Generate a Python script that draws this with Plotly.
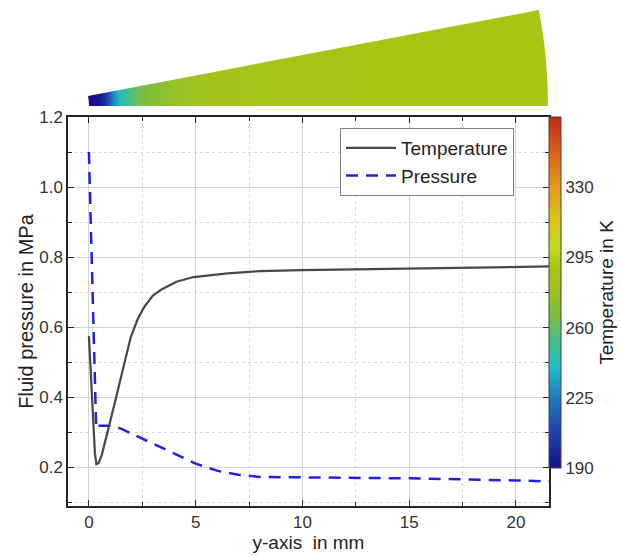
import numpy as np
import plotly.graph_objects as go

# ---------------- data ----------------
# Temperature along y-axis (K)
temp_x = [0.0, 0.1, 0.2, 0.28, 0.35, 0.45, 0.6, 0.8, 1.0, 1.3, 1.65, 1.96, 2.3, 2.6,
          3.0, 3.4, 4.1, 4.9, 6.5, 8.0, 10.0, 15.0, 20.0, 21.55]
temp_K = [255.5, 235.5, 212.8, 197.0, 191.5, 192.0, 196.0, 204.0, 213.0, 226.0, 241.0,
          255.0, 264.4, 270.2, 275.7, 278.8, 282.7, 285.0, 286.8, 288.0, 288.5, 289.2, 289.9, 290.3]

# Fluid pressure along y-axis (MPa)
pres_x = [0.0, 0.1, 0.2, 0.3, 0.34, 0.5, 1.0, 1.5, 2.0, 3.0, 4.0, 5.0, 6.0, 7.0,
          8.0, 10.0, 15.0, 20.0, 21.55]
pres_MPa = [1.10, 0.86, 0.60, 0.36, 0.31, 0.318, 0.318, 0.31, 0.296, 0.266, 0.238,
            0.210, 0.190, 0.178, 0.172, 0.171, 0.168, 0.162, 0.159]

# Temperature field of the wedge, K
wedge_x = [0.0, 0.45, 0.7, 0.9, 1.1, 1.4, 1.7, 2.2, 3.0, 4.3, 6.0, 9.0, 13.0, 17.0, 21.6]
wedge_T = [190, 192, 200, 212, 226, 240, 250, 261, 270, 278, 283, 287, 289, 290, 290]

cbar_ticks = [190, 225, 260, 295, 330]
T_MIN, T_MAX = 190, 365

colorscale = [
    [0.000, "#14108a"],
    [0.086, "#1e3aa8"],
    [0.200, "#1f78c0"],
    [0.286, "#22bcc8"],
    [0.371, "#4cbe80"],
    [0.429, "#7cbc40"],
    [0.514, "#9ec41e"],
    [0.571, "#a9c414"],
    [0.629, "#c8d81e"],
    [0.714, "#dcc01c"],
    [0.800, "#e39a1c"],
    [0.886, "#de6a1a"],
    [1.000, "#c42818"],
]

# ---------------- geometry / layout constants ----------------
W, H = 621, 556
ML, MR, MT, MB = 68, 72, 8, 50
PH = H - MT - MB
X_RANGE = [-0.98, 21.55]
Y_RANGE = [0.089, 1.2]
# temperature axis aligned so that 0.2 MPa <-> 190 K and 1.2 MPa <-> 365 K
k = (T_MAX - T_MIN) / (1.2 - 0.2)
T_RANGE = [T_MIN + (Y_RANGE[0] - 0.2) * k, T_MAX]

main_top = (H - MB - 117) / PH
wedge_bot = (H - MB - 106) / PH
px_per_mm = (W - ML - MR) / (X_RANGE[1] - X_RANGE[0])
wedge_yr = [0, (106 - MT) / px_per_mm]

# wedge (annular sector) geometry in mm
OX, R_IN, R_OUT = -2.5, 2.5, 24.0
TH = np.arctan(0.1907)

FONT = "Liberation Sans, Arial, sans-serif"

fig = go.Figure()

fig.add_trace(go.Heatmap(
    x=wedge_x, y=[0, 6], z=[wedge_T, wedge_T], xaxis="x2", yaxis="y3",
    zsmooth="best", colorscale=colorscale, zmin=T_MIN, zmax=T_MAX,
    showlegend=False, hoverinfo="skip",
    colorbar=dict(
        x=1.0, xanchor="left", xpad=0, thickness=12,
        y=(H - MB - 468) / PH, yanchor="bottom", ypad=0,
        len=(468 - 117) / PH, lenmode="fraction",
        outlinecolor="#444", outlinewidth=1,
        tickvals=cbar_ticks, ticks="", ticklabelposition="outside",
        tickfont=dict(size=17, color="#333", family=FONT),
        title=dict(text="Temperature in K", side="right",
                   font=dict(size=19, color="#222", family=FONT)),
    ),
))

fig.add_trace(go.Scatter(
    x=temp_x, y=temp_K, yaxis="y2", mode="lines", name="Temperature",
    line=dict(color="#474747", width=2.2),
))
fig.add_trace(go.Scatter(
    x=pres_x, y=pres_MPa, mode="lines", name="Pressure",
    line=dict(color="#1f22e6", width=2.5, dash="12px,8px"),
))

# white masks that cut the wedge outline out of the heatmap
def path(pts):
    return "M " + " L ".join(f"{x:.4f},{y:.4f}" for x, y in pts) + " Z"

a = np.linspace(0, TH, 30)
inner = [(OX + R_IN * np.cos(t), R_IN * np.sin(t)) for t in a]
outer = [(OX + R_OUT * np.cos(t), R_OUT * np.sin(t)) for t in a[::-1]]
it, ot = inner[-1], outer[0]
slope = (ot[1] - it[1]) / (ot[0] - it[0])
left_mask = [(-2, -0.3), (0, -0.3)] + inner + [(-2, 6)]
top_mask = [(-2, it[1] - 0.1), it, ot, (23, ot[1] + slope * (23 - ot[0])), (23, 6), (-2, 6)]
right_mask = outer + [(outer[-1][0], -0.3), (23, -0.3), (23, 6), (ot[0], 6)]
shapes = [dict(type="path", path=path(p), xref="x2", yref="y3", fillcolor="white",
               line=dict(width=0), layer="above") for p in (left_mask, top_mask, right_mask)]

axis_common = dict(
    showline=True, linecolor="#262626", linewidth=1.5, mirror="ticks",
    ticks="inside", ticklen=6, tickcolor="#262626", tickwidth=1.2,
    showgrid=True, gridcolor="#d2d2d2", gridwidth=1, zeroline=False,
    tickfont=dict(size=17, color="#333", family=FONT), automargin=False,
)

fig.update_layout(
    width=W, height=H, margin=dict(l=ML, r=MR, t=MT, b=MB, autoexpand=False),
    paper_bgcolor="white", plot_bgcolor="white",
    font=dict(family=FONT, color="#222"),
    xaxis=dict(
        **axis_common, domain=[0, 1], range=X_RANGE, anchor="y",
        tick0=0, dtick=5,
        minor=dict(tick0=0, dtick=2.5, ticks="inside", ticklen=4, tickcolor="#262626",
                   showgrid=True, gridcolor="#d8d8d8", griddash="dot"),
        title=dict(text="y-axis\u00a0 in mm", font=dict(size=19, color="#222"), standoff=3),
    ),
    yaxis=dict(
        **axis_common, domain=[0, main_top], range=Y_RANGE, anchor="x",
        tick0=0.2, dtick=0.2, tickformat=".1f",
        minor=dict(tick0=0.1, dtick=0.1, ticks="inside", ticklen=4, tickcolor="#262626",
                   showgrid=True, gridcolor="#d8d8d8", griddash="dot"),
        title=dict(text="Fluid pressure in MPa", font=dict(size=20, color="#222"), standoff=0),
    ),
    yaxis2=dict(overlaying="y", anchor="x", range=T_RANGE, visible=False),
    xaxis2=dict(domain=[0, 1], anchor="y3", matches="x", visible=False),
    yaxis3=dict(domain=[wedge_bot, 1], anchor="x2", range=wedge_yr, visible=False),
    legend=dict(
        x=(340 - ML) / (W - ML - MR), y=(H - MB - 128) / PH, xanchor="left", yanchor="top",
        bgcolor="white", bordercolor="#808080", borderwidth=1, itemwidth=50,
        font=dict(size=19, color="#222"), tracegroupgap=0,
    ),
    shapes=shapes,
)

fig.write_html("out.html")
